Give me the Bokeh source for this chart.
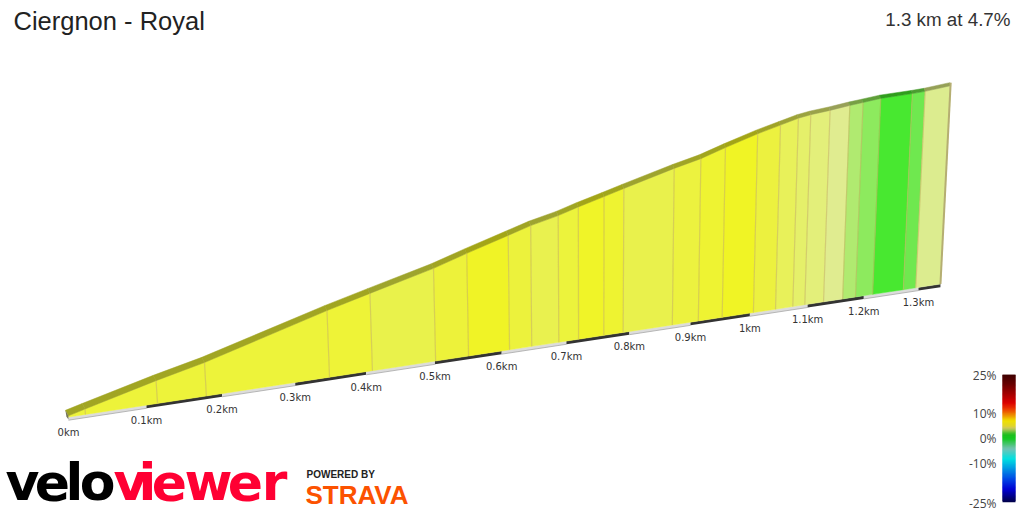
import numpy as np
from bokeh.plotting import figure
from bokeh.models import Range1d, ColumnDataSource
from bokeh.core.properties import value
from bokeh.embed import file_html
from bokeh.resources import INLINE

title_text = "Ciergnon - Royal"
summary_text = "1.3 km at 4.7%"

# route profile
distance_km = [0.0, 0.0215, 0.1144, 0.179, 0.348, 0.409, 0.501, 0.550, 0.612, 0.646, 0.688, 0.719, 0.759, 0.790,
               0.870, 0.913, 0.953, 1.006, 1.044, 1.074, 1.095, 1.128, 1.162, 1.185, 1.216, 1.272, 1.295, 1.341]
elevation_m = [0.3, 1.4, 6.0, 8.9, 18.2, 21.3, 25.9, 28.9, 32.5, 34.5, 36.4, 38.2, 40.3, 42.0,
               46.2, 48.2, 50.7, 53.8, 55.7, 57.2, 57.9, 58.6, 59.5, 60.0, 60.7, 61.2, 61.5, 62.5]
segment_colors = ["#edf33a", "#edf33a", "#edf33a", "#edf33a", "#eef337", "#e9f24b", "#edf23a", "#f0f326", "#ecf23c",
                  "#e9f14f", "#ecf33c", "#f0f428", "#eef331", "#e9f14c", "#ecf23f", "#eef332", "#f0f425", "#ecf13f",
                  "#e8f15a", "#e5f06a", "#e3ef7a", "#e0ec90", "#b0ea70", "#8dea5e", "#48e830", "#6fe84f", "#dcec8f"]

tick_km = [0.0, 0.1, 0.2, 0.3, 0.4, 0.5, 0.6, 0.7, 0.8, 0.9, 1.0, 1.1, 1.2, 1.3]
tick_labels = ["0km", "0.1km", "0.2km", "0.3km", "0.4km", "0.5km", "0.6km", "0.7km", "0.8km", "0.9km", "1km",
               "1.1km", "1.2km", "1.3km"]

legend_pct = [25, 10, 0, -10, -25]
legend_labels = ["25%", "10%", "0%", "-10%", "-25%"]
legend_stop_pct = [25, 21, 14, 11.5, 9.5, 7, 5, 4, 1.5, 0, -4, -8, -16, -20, -25]
legend_stop_rgb = [(61, 0, 0), (110, 0, 0), (220, 0, 0), (236, 60, 0), (238, 130, 0), (240, 225, 0), (226, 215, 40),
                   (205, 200, 95), (30, 190, 30), (20, 200, 30), (115, 195, 180), (0, 225, 225), (0, 70, 230),
                   (0, 0, 210), (0, 0, 70)]

logo_letters = list("veloviewer")
logo_colors = ["#000000"] * 4 + ["#ff0033"] * 6
logo_x = [22, 52, 74, 97, 130, 147, 169, 208, 245, 274]

# projection of route (km, m) to the 3D view
WALL_A, WALL_B = 792.8, 0.1635


def base_x(d):
    return 68 + WALL_A * d / (1 + WALL_B * d)


def base_y(d):
    return 418 - 0.1525 * (base_x(d) - 68)


def project(d, e):
    bx = base_x(d)
    h = 3.87 * e / (1 + WALL_B * d)
    return bx + h * (bx - 590) / 6800, base_y(d) - 1.5 - h


def darken(c, f):
    r, g, b = int(c[1:3], 16), int(c[3:5], 16), int(c[5:7], 16)
    return "#%02x%02x%02x" % (int(r * f), int(g * f), int(b * f * 0.9))


dist = np.array(distance_km)
elev = np.array(elevation_m)
end_km = dist[-1]
top_x, top_y = project(dist, elev)
bot_x, bot_y = project(dist, np.zeros_like(dist))
back_x = top_x - 3 + 2 * dist / end_km
back_y = top_y - 5.5 + 2.5 * dist / end_km

p = figure(width=1024, height=512, x_range=Range1d(0, 1024), y_range=Range1d(512, 0),
           output_backend="svg", toolbar_location=None, min_border=0, outline_line_color=None)
p.axis.visible = False
p.grid.visible = False
p.background_fill_color = "#ffffff"
p.border_fill_color = "#ffffff"

# base strip, alternating every 100 m
strip_edges = tick_km + [end_km]
for i in range(len(strip_edges) - 1):
    d = np.array(strip_edges[i:i + 2])
    x, y = base_x(d), base_y(d)
    col = "#333333" if i % 2 else "#dcdcdc"
    p.patch([x[0], x[1], x[1], x[0]], [y[0] - 1.5, y[1] - 1.5, y[1] + 1.7, y[0] + 1.7], fill_color=col, line_color=None)
    if i % 2 == 0:
        p.line(x, y + 1.7, line_color="#a8a8a8", line_width=0.8)

# walls and top ribbon
for i, c in enumerate(segment_colors):
    j = i + 1
    p.patch([top_x[i], top_x[j], bot_x[j], bot_x[i]], [top_y[i], top_y[j], bot_y[j], bot_y[i]],
            fill_color=c, line_color=c, line_width=0.5)
    rc = darken(c, 0.68)
    p.patch([back_x[i], back_x[j], top_x[j], top_x[i]], [back_y[i], back_y[j], top_y[j], top_y[i]],
            fill_color=rc, line_color=rc, line_width=0.5)
p.segment(top_x[1:-1], top_y[1:-1], bot_x[1:-1], bot_y[1:-1], line_color="#c4b05c", line_alpha=0.55, line_width=1.2)
p.line([back_x[-1] + 1, bot_x[-1]], [back_y[-1], bot_y[-1]], line_color="#b5ae72", line_width=2)
p.patch([top_x[0], back_x[0], back_x[0] + 1, bot_x[0]], [top_y[0], back_y[0], top_y[0] + 1, base_y(0) + 1],
        fill_color="#77775a", line_color=None)

# distance labels
tk = np.array(tick_km)
p.text(base_x(tk), base_y(tk) + 14, text=tick_labels, text_font=value("DejaVu Sans"), text_font_size="10px",
       text_color="#333333", text_align="center", text_baseline="middle")

# titles
p.text([13], [20], text=[title_text], text_font=value("Liberation Sans"), text_font_size="25.5px",
       text_color="#222222", text_align="left", text_baseline="middle")
p.text([1010], [19], text=[summary_text], text_font=value("Liberation Sans"), text_font_size="18.8px",
       text_color="#333333", text_align="right", text_baseline="middle")

# gradient legend
def legend_y(g):
    return 438 - 2.55 * np.asarray(g, dtype=float)


levels = np.arange(-25, 25, 0.5)
stops = np.array(legend_stop_rgb, dtype=float)
sp = np.array(legend_stop_pct, dtype=float)[::-1]
rgb = np.stack([np.interp(levels + 0.25, sp, stops[::-1, k]) for k in range(3)], axis=1).astype(int)
cols = ["#%02x%02x%02x" % tuple(v) for v in rgb]
p.quad(left=1002, right=1015, bottom=legend_y(levels), top=legend_y(np.minimum(levels + 1.0, 25)), fill_color=cols,
       line_color=None)
p.text([996] * 5, [375, 413, 438, 463, 503], text=legend_labels, text_font=value("Open Sans"), text_font_size="12px",
       text_color="#444444", text_align="right", text_baseline="middle")

# logos
src = ColumnDataSource(dict(x=logo_x, y=[481] * len(logo_x), t=logo_letters, c=logo_colors))
p.text("x", "y", text="t", source=src, text_font=value("DejaVu Sans"), text_font_style="bold", text_font_size="52px",
       text_color="c", text_align="center", text_baseline="middle")
p.text([306], [474], text=["POWERED BY"], text_font=value("Liberation Sans"), text_font_style="bold",
       text_font_size="10px", text_color="#222222", text_align="left", text_baseline="middle")
p.text([305], [494], text=["STRAVA"], text_font=value("Liberation Sans"), text_font_style="bold",
       text_font_size="26px", text_color="#fc5200", text_align="left", text_baseline="middle")

open("out.html", "w").write(file_html(p, INLINE))
